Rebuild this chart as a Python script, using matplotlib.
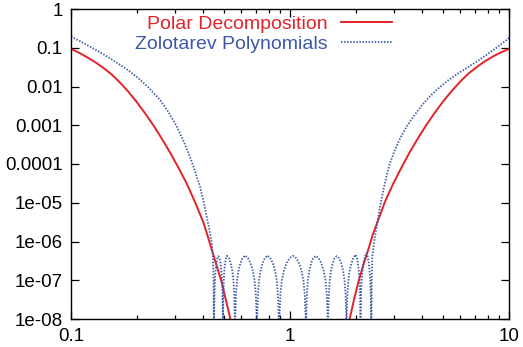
import numpy as np
import matplotlib
matplotlib.use("Agg")
import matplotlib.pyplot as plt
from matplotlib.ticker import LogLocator, FixedLocator, FixedFormatter, NullFormatter

plt.rcParams['font.family'] = ['Liberation Sans', 'DejaVu Sans']

# values, stored as log10 of x and y
red_logx = [-1.0, -0.964, -0.928, -0.890, -0.852, -0.814, -0.776, -0.738, -0.70,
            -0.662, -0.624, -0.586, -0.548, -0.510, -0.472, -0.434, -0.396, -0.377,
            -0.358, -0.335, -0.312, -0.293, -0.274, -0.262,
            0.262, 0.274, 0.293, 0.312, 0.335, 0.358, 0.377, 0.396, 0.434, 0.472,
            0.510, 0.548, 0.586, 0.624, 0.662, 0.70, 0.738, 0.776, 0.814, 0.852,
            0.890, 0.928, 0.964, 1.0]
red_logy = [-1.03, -1.125, -1.24, -1.37, -1.52, -1.69, -1.90, -2.135, -2.40,
            -2.69, -3.00, -3.34, -3.70, -4.09, -4.50, -4.98, -5.50, -5.84,
            -6.20, -6.62, -7.05, -7.50, -7.96, -8.30,
            -8.30, -7.96, -7.48, -7.05, -6.60, -6.20, -5.84, -5.55, -4.97, -4.50,
            -4.08, -3.68, -3.32, -2.98, -2.67, -2.38, -2.12, -1.88, -1.67, -1.50,
            -1.35, -1.22, -1.12, -1.03]

blue_logx = [-1.0, -0.964, -0.928, -0.890, -0.852, -0.814, -0.776, -0.738, -0.70,
             -0.647, -0.594, -0.555, -0.517, -0.487, -0.457, -0.434, -0.411, -0.395,
             -0.380, -0.368, -0.3575, -0.352, -0.349, -0.347,
             -0.3464, -0.345, -0.343, -0.340, -0.336, -0.332, -0.327,
             -0.3218, -0.3176, -0.3134, -0.3102, -0.3081, -0.3066, -0.306,
             -0.3055, -0.3042, -0.3024, -0.2997, -0.2961, -0.2925, -0.288,
             -0.2788, -0.2714, -0.2640, -0.2584, -0.2547, -0.2521, -0.251,
             -0.2496, -0.2465, -0.2419, -0.2351, -0.2260, -0.2169, -0.2055,
             -0.1919, -0.1810, -0.1701, -0.1619, -0.1565, -0.1526, -0.151,
             -0.1496, -0.1462, -0.1414, -0.1342, -0.1246, -0.1150, -0.103,
             -0.0898, -0.0792, -0.0686, -0.0606, -0.0553, -0.0516, -0.050,
             -0.0481, -0.0436, -0.0373, -0.0277, -0.0150, -0.0022, 0.0137,
             0.0285, 0.0404, 0.0522, 0.0611, 0.0671, 0.0712, 0.073,
             0.0743, 0.0773, 0.0817, 0.0882, 0.0969, 0.1056, 0.1164,
             0.1307, 0.1421, 0.1535, 0.1621, 0.1678, 0.1718, 0.1735,
             0.1747, 0.1775, 0.1814, 0.1873, 0.1952, 0.2031, 0.213,
             0.2243, 0.2333, 0.2423, 0.2490, 0.2535, 0.2567, 0.258,
             0.2593, 0.2622, 0.2664, 0.2727, 0.2811, 0.2895, 0.300,
             0.3055, 0.3099, 0.3143, 0.3176, 0.3198, 0.3213, 0.322,
             0.3228, 0.3247, 0.3274, 0.3315, 0.3369, 0.3423, 0.349,
             0.3545, 0.3589, 0.3633, 0.3666, 0.3688, 0.3703, 0.371,
             0.373, 0.376, 0.386, 0.396, 0.411, 0.426, 0.441, 0.457, 0.480, 0.502,
             0.532, 0.563, 0.600, 0.639, 0.677, 0.7155, 0.760, 0.807, 0.852, 0.898,
             0.950, 1.0]
blue_logy = [-0.71, -0.815, -0.925, -1.045, -1.17, -1.30, -1.44, -1.585, -1.75,
             -2.02, -2.34, -2.66, -3.03, -3.40, -3.81, -4.18, -4.58, -4.95,
             -5.36, -5.70, -6.04, -6.35, -7.0, -9.0,
             -7.9, -7.35, -7.0, -6.75, -6.55, -6.43, -6.38,
             -6.43, -6.55, -6.75, -7.0, -7.35, -7.9, -9.0,
             -7.9, -7.35, -7.0, -6.75, -6.55, -6.43, -6.37,
             -6.43, -6.55, -6.75, -7.0, -7.35, -7.9, -9.0,
             -7.9, -7.35, -7.0, -6.75, -6.55, -6.43, -6.36,
             -6.43, -6.55, -6.75, -7.0, -7.35, -7.9, -9.0,
             -7.9, -7.35, -7.0, -6.75, -6.55, -6.43, -6.36,
             -6.43, -6.55, -6.75, -7.0, -7.35, -7.9, -9.0,
             -7.9, -7.35, -7.0, -6.75, -6.55, -6.43, -6.37,
             -6.43, -6.55, -6.75, -7.0, -7.35, -7.9, -9.0,
             -7.9, -7.35, -7.0, -6.75, -6.55, -6.43, -6.37,
             -6.43, -6.55, -6.75, -7.0, -7.35, -7.9, -9.0,
             -7.9, -7.35, -7.0, -6.75, -6.55, -6.43, -6.38,
             -6.43, -6.55, -6.75, -7.0, -7.35, -7.9, -9.0,
             -7.9, -7.35, -7.0, -6.75, -6.55, -6.42, -6.34,
             -6.42, -6.55, -6.75, -7.0, -7.35, -7.9, -9.0,
             -7.9, -7.35, -7.0, -6.75, -6.52, -6.39, -6.30,
             -6.39, -6.52, -6.75, -7.0, -7.35, -7.9, -9.0,
             -7.0, -6.37, -5.95, -5.60, -5.10, -4.68, -4.30, -3.97, -3.62, -3.35,
             -3.04, -2.78, -2.50, -2.25, -2.05, -1.87, -1.69, -1.52, -1.36, -1.18,
             -0.97, -0.75]

ytick_vals = [1, 0.1, 0.01, 0.001, 0.0001, 1e-5, 1e-6, 1e-7, 1e-8]
ytick_labels = ['1', '0.1', '0.01', '0.001', '0.0001', '1e-05', '1e-06', '1e-07', '1e-08']
xtick_vals = [0.1, 1, 10]
xtick_labels = ['0.1', '1', '10']

red = '#e3232b'
blue = '#3c58a8'

fig = plt.figure(figsize=(5.23, 3.47), dpi=100)
ax = fig.add_axes([71 / 523, 28 / 347, 438 / 523, 310 / 347])

ax.plot(10 ** np.array(red_logx), 10 ** np.array(red_logy), color=red, lw=1.4,
        label='Polar Decomposition')
ax.plot(10 ** np.array(blue_logx), 10 ** np.array(blue_logy), color=blue, lw=1.3,
        linestyle=(0, (0.8, 0.9)), label='Zolotarev Polynomials')

ax.set_xscale('log')
ax.set_yscale('log')
ax.set_xlim(0.1, 10)
ax.set_ylim(1e-8, 1)

ax.xaxis.set_major_locator(FixedLocator(xtick_vals))
ax.xaxis.set_major_formatter(FixedFormatter(xtick_labels))
ax.xaxis.set_minor_locator(LogLocator(base=10, subs=range(2, 10)))
ax.xaxis.set_minor_formatter(NullFormatter())
ax.yaxis.set_major_locator(FixedLocator(ytick_vals))
ax.yaxis.set_major_formatter(FixedFormatter(ytick_labels))
ax.yaxis.set_minor_locator(LogLocator(base=10, subs=[2, 5]))
ax.yaxis.set_minor_formatter(NullFormatter())

ax.tick_params(which='both', direction='in', top=True, right=True, width=0.9,
               labelsize=13.5, color='black')
ax.tick_params(which='major', length=6)
ax.tick_params(axis='y', which='major', pad=6)
ax.tick_params(axis='x', which='major', pad=6.5)
ax.tick_params(which='minor', length=3)
for s in ax.spines.values():
    s.set_linewidth(1.0)

ax.legend(loc='upper right', bbox_to_anchor=(0.733, 0.98), frameon=False,
          markerfirst=False, labelcolor='linecolor', fontsize=14,
          handlelength=2.6, handletextpad=0.7, borderpad=0, borderaxespad=0,
          labelspacing=0.12)

fig.savefig('out.png', dpi=100)
